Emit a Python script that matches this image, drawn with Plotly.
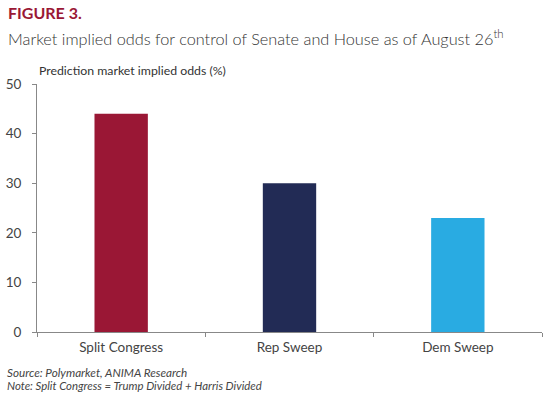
import plotly.graph_objects as go

categories = ["Split Congress", "Rep Sweep", "Dem Sweep"]
values = [44, 30, 23]
colors = ["#9A1735", "#222B55", "#29ABE2"]
y_ticks = [0, 10, 20, 30, 40, 50]

W, H = 551, 393
L, R, T, B = 37, 9, 84, 61
pw, ph = W - L - R, H - T - B


def px(x):
    return (x - L) / pw


def py(y):
    return (H - y - B) / ph


fig = go.Figure(go.Bar(x=categories, y=values, marker_color=colors, width=0.317,
                       marker_line_width=0))

texts = [
    ("<b>FIGURE 3.</b>", 6, 13, dict(size=16, color="#9A1735", family="Lato")),
    ("Market implied odds for control of Senate and House as of August 26<sup>th</sup>",
     6, 38, dict(size=16.3, color="#333", family="Lato", weight=300)),
    ("Prediction market implied odds (%)", 37, 71, dict(size=12.3, color="#333", family="Lato")),
    ("<i>Source: Polymarket, ANIMA Research</i>", 5, 372, dict(size=11.7, color="#444", family="Lato")),
    ("<i>Note: Split Congress = Trump Divided + Harris Divided</i>", 5, 385.5,
     dict(size=11.4, color="#444", family="Lato")),
]
annotations = [dict(text=t, x=px(x), y=py(y), xref="paper", yref="paper", showarrow=False,
                    xanchor="left", yanchor="middle", font=f) for t, x, y, f in texts]

fig.update_layout(
    width=W, height=H,
    margin=dict(l=L, r=R, t=T, b=B),
    paper_bgcolor="white", plot_bgcolor="white",
    font=dict(family="Lato", color="#444"),
    showlegend=False,
    annotations=annotations,
)
fig.update_xaxes(showline=True, linecolor="#888", linewidth=1, ticks="outside",
                 tickson="boundaries", ticklen=4, tickcolor="#888", automargin=False,
                 ticklabelstandoff=3,
                 tickfont=dict(size=13.5, color="#444"), showgrid=False)
fig.update_yaxes(range=[0, 50], tickvals=y_ticks, showline=True, linecolor="#888",
                 linewidth=1, ticks="outside", ticklen=4, tickcolor="#888", automargin=False,
                 ticklabelstandoff=8,
                 tickfont=dict(size=13.5, color="#444"), showgrid=False, zeroline=False)

fig.write_html("out.html", config={"displayModeBar": False},
               post_script="document.body.style.margin='0';")
